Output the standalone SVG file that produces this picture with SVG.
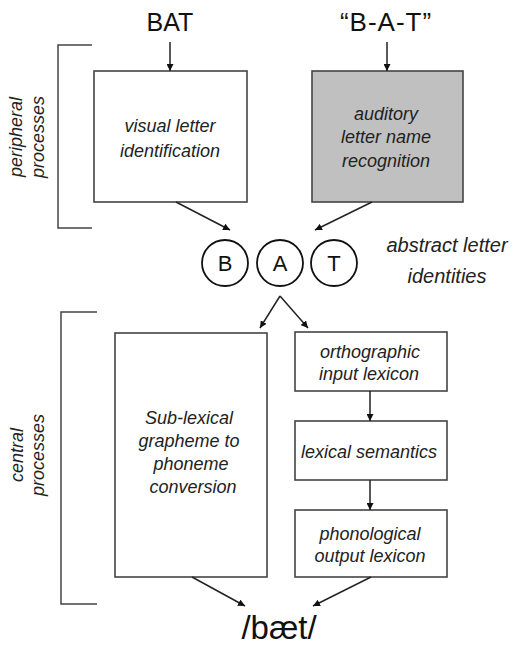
<svg xmlns="http://www.w3.org/2000/svg" width="513" height="648" viewBox="0 0 513 648">
<defs>
<style>
.box{fill:#fff;stroke:#444;stroke-width:1.6}
.gray{fill:#c0c0c0}
.t{font-family:"Liberation Sans",Arial,sans-serif;font-style:italic;font-size:18px;fill:#222;text-anchor:middle}
.big{font-family:"Liberation Sans",Arial,sans-serif;font-size:25px;fill:#111;text-anchor:middle}
.lab{font-family:"Liberation Sans",Arial,sans-serif;font-style:italic;font-size:18px;fill:#222;text-anchor:middle}
.circ{fill:#fff;stroke:#111;stroke-width:1.8}
.ct{font-family:"Liberation Sans",Arial,sans-serif;font-size:22px;fill:#111;text-anchor:middle}
.ln{stroke:#222;stroke-width:1.5;fill:none}
.br{stroke:#444;stroke-width:1.5;fill:none}
</style>
<marker id="ah" viewBox="0 0 10 10" refX="10" refY="5" markerWidth="7" markerHeight="7" markerUnits="userSpaceOnUse" orient="auto">
<path d="M0,0 L10,5 L0,10 z" fill="#111"/>
</marker>
</defs>
<rect width="513" height="648" fill="#fff"/>

<g id="input-written"><text class="big" x="170" y="31">BAT</text></g>
<g id="input-spoken"><text class="big" x="386" y="31" style="font-size:26px;letter-spacing:1px">“B-A-T”</text></g>

<g id="bracket-peripheral">
<path class="br" d="M92,45 H58 V228 H92"/>
<text class="lab" transform="translate(22,137) rotate(-90)">peripheral</text>
<text class="lab" transform="translate(44,137) rotate(-90)">processes</text>
</g>

<g id="visual">
<rect class="box" x="94" y="71" width="153" height="131"/>
<text class="t" x="170" y="132">visual letter</text>
<text class="t" x="170" y="157">identification</text>
</g>

<g id="auditory">
<rect class="box gray" x="312" y="71" width="151" height="131"/>
<text class="t" x="386" y="120">auditory</text>
<text class="t" x="386" y="143">letter name</text>
<text class="t" x="386" y="167">recognition</text>
</g>

<g id="letters">
<circle class="circ" cx="225" cy="263" r="23"/>
<text class="ct" x="225" y="271">B</text>
<circle class="circ" cx="280" cy="263" r="23"/>
<text class="ct" x="280" y="271">A</text>
<circle class="circ" cx="334" cy="263" r="23"/>
<text class="ct" x="334" y="271">T</text>
<text class="lab" style="font-size:20px" x="447" y="252">abstract letter</text>
<text class="lab" style="font-size:20px" x="447" y="283">identities</text>
</g>

<g id="bracket-central">
<path class="br" d="M97,312 H61 V604 H97"/>
<text class="lab" transform="translate(23,455) rotate(-90)">central</text>
<text class="lab" transform="translate(44,455) rotate(-90)">processes</text>
</g>

<g id="sublexical">
<rect class="box" x="115" y="333" width="152" height="244"/>
<text class="t" x="189" y="424">Sub-lexical</text>
<text class="t" x="189" y="447">grapheme to</text>
<text class="t" x="191" y="470">phoneme</text>
<text class="t" x="193" y="493">conversion</text>
</g>

<g id="orthographic">
<rect class="box" x="295" y="332" width="152" height="59"/>
<text class="t" x="370" y="358">orthographic</text>
<text class="t" x="369" y="380">input lexicon</text>
</g>

<g id="semantics">
<rect class="box" x="295" y="421" width="152" height="59"/>
<text class="t" x="369" y="458">lexical semantics</text>
</g>

<g id="phonological">
<rect class="box" x="295" y="510" width="152" height="67"/>
<text class="t" x="370" y="540">phonological</text>
<text class="t" x="370" y="562">output lexicon</text>
</g>

<g id="output"><text class="big" style="font-size:33px" x="279" y="639">/bæt/</text></g>

<g id="connectors">
<line class="ln" x1="170" y1="42" x2="170" y2="71" marker-end="url(#ah)"/>
<line class="ln" x1="387" y1="42" x2="387" y2="71" marker-end="url(#ah)"/>
<line class="ln" x1="176" y1="202" x2="230" y2="230" marker-end="url(#ah)"/>
<line class="ln" x1="372" y1="202" x2="315" y2="230" marker-end="url(#ah)"/>
<line class="ln" x1="280" y1="296" x2="260" y2="328" marker-end="url(#ah)"/>
<line class="ln" x1="280" y1="296" x2="308" y2="328" marker-end="url(#ah)"/>
<line class="ln" x1="370" y1="391" x2="370" y2="421" marker-end="url(#ah)"/>
<line class="ln" x1="370" y1="480" x2="370" y2="510" marker-end="url(#ah)"/>
<line class="ln" x1="192" y1="577" x2="245" y2="606" marker-end="url(#ah)"/>
<line class="ln" x1="371" y1="577" x2="313" y2="606" marker-end="url(#ah)"/>
</g>
</svg>
